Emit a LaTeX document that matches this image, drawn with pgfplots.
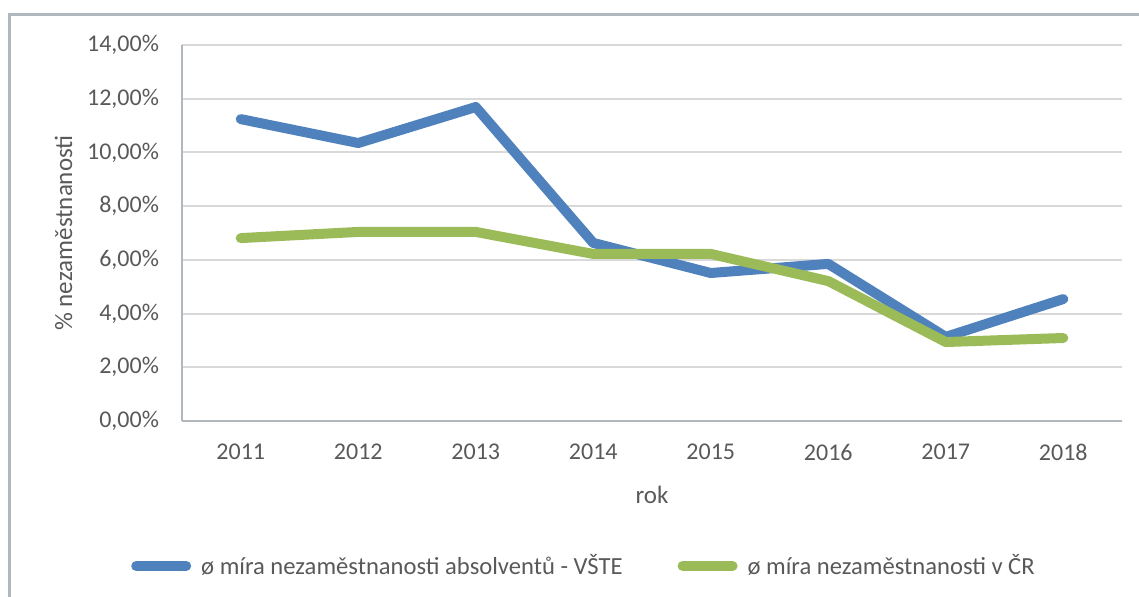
\documentclass[border=0pt]{standalone}
\usepackage{pgfplots}
\pgfplotsset{compat=1.18}
\usepackage{fontspec}
\setmainfont{Carlito}
\definecolor{txt}{HTML}{595959}
\definecolor{gridc}{HTML}{D9D9D9}
\definecolor{axl}{HTML}{B0B7BD}
\definecolor{vste}{HTML}{4F81BD}
\definecolor{cr}{HTML}{9BBB59}
\begin{document}
\begin{tikzpicture}
\useasboundingbox (0,0) rectangle (569.5pt,298.5pt);
\begin{scope}
\clip (0,0) rectangle (569.5pt,298.5pt);
\draw[axl, line width=1.5pt] (4.5pt,-20pt) -- (4.5pt,291pt) -- (600pt,291pt);
\end{scope}
\begin{axis}[
  at={(91pt,88pt)}, anchor=south west,
  scale only axis, width=470pt, height=188pt,
  xmin=2010.5, xmax=2018.5, ymin=0, ymax=14,
  xtick={2011,2012,2013,2014,2015,2016,2017,2018},
  ytick={0,2,4,6,8,10,12,14},
  /pgf/number format/assume math mode=true,
  xticklabel style={/pgf/number format/set thousands separator={}, yshift=-8pt},
  yticklabel={\pgfmathprintnumber[fixed,fixed zerofill,precision=2,use comma]{\tick}\%},
  yticklabel style={xshift=-8pt},
  tick label style={font=\fontsize{12}{14}\selectfont, text=txt},
  major tick length=0pt,
  xmajorgrids=false, ymajorgrids=true, grid style={gridc, line width=1pt},
  axis x line*=bottom, axis y line*=left,
  axis line style={axl, line width=1pt, -},
  xlabel={rok}, ylabel={\% nezaměstnanosti},
  label style={font=\fontsize{12.5}{14}\selectfont, text=txt},
  xlabel style={yshift=-6pt},
  ylabel style={yshift=0.5pt},
  legend columns=2,
  legend style={at={(0.4287,-0.3856)}, anchor=center, draw=none, fill=none,
    font=\fontsize{12.3}{14}\selectfont, text=txt,
    /tikz/every odd column/.append style={column sep=3pt},
    /tikz/every even column/.append style={column sep=25.5pt}},
  legend image code/.code={\draw[#1] (2.5pt,0pt) -- (27.5pt,0pt);},
  legend cell align=left,
]
\addplot[vste, line width=5pt, line join=round, line cap=round] coordinates {
(2011,11.24) (2012,10.35) (2013,11.69) (2014,6.63) (2015,5.51) (2016,5.85) (2017,3.13) (2018,4.54)};
\addlegendentry{ø míra nezaměstnanosti absolventů - VŠTE}
\addplot[cr, line width=5pt, line join=round, line cap=round] coordinates {
(2011,6.81) (2012,7.04) (2013,7.04) (2014,6.22) (2015,6.22) (2016,5.21) (2017,2.94) (2018,3.09)};
\addlegendentry{ø míra nezaměstnanosti v ČR}
\end{axis}
\end{tikzpicture}
\end{document}
